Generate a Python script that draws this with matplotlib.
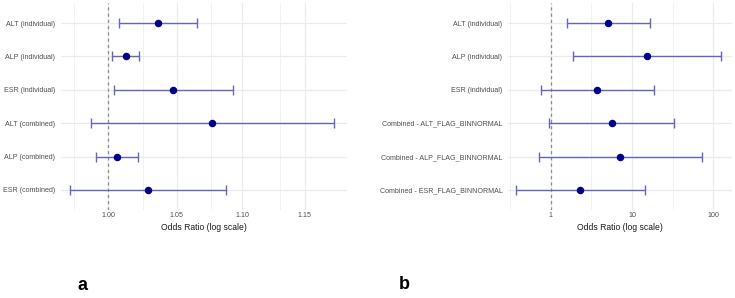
import matplotlib
matplotlib.use("Agg")
import matplotlib.pyplot as plt
import numpy as np

plt.rcParams['font.family'] = ['Liberation Sans', 'DejaVu Sans']

# panel a data
labels_a = ["ALT (individual)", "ALP (individual)", "ESR (individual)",
            "ALT (combined)", "ALP (combined)", "ESR (combined)"]
or_a = [1.0362, 1.0124, 1.0473, 1.0767, 1.0062, 1.0284]
lo_a = [1.0078, 1.0028, 1.0041, 0.9876, 0.9913, 0.9731]
hi_a = [1.0653, 1.0223, 1.0927, 1.1737, 1.0213, 1.0873]

# panel b data
labels_b = ["ALT (individual)", "ALP (individual)", "ESR (individual)",
            "Combined - ALT_FLAG_BINNORMAL", "Combined - ALP_FLAG_BINNORMAL",
            "Combined - ESR_FLAG_BINNORMAL"]
or_b = [5.11, 15.3, 3.74, 5.68, 7.12, 2.29]
lo_b = [1.59, 1.88, 0.76, 0.96, 0.71, 0.374]
hi_b = [16.7, 125.4, 18.5, 33.1, 71.9, 14.3]

ticks_a = [1.00, 1.05, 1.10, 1.15]
ticklabels_a = ["1.00", "1.05", "1.10", "1.15"]
ticks_b = [1, 10, 100]
ticklabels_b = ["1", "10", "100"]

W, H = 735, 298
fig = plt.figure(figsize=(W / 100, H / 100), dpi=100)

grid_col = "#EBEBEB"
bar_col = "#6666B9"
pt_col = "#00008B"


def forest(ax, labels, est, lo, hi, xlim, ticks, ticklabels):
    n = len(labels)
    y = np.arange(n)[::-1]
    ax.set_xscale("log")
    ax.set_xlim(xlim)
    ax.set_ylim(-0.6, n - 0.4)
    # grid: majors, minors halfway in log space
    lt = np.log(ticks)
    step = lt[1] - lt[0]
    minors = np.exp(np.arange(lt[0] - step / 2, np.log(xlim[1]) + 1e-9, step))
    minors = [m for m in minors if xlim[0] <= m <= xlim[1]]
    for m in minors:
        ax.axvline(m, color=grid_col, lw=0.5, zorder=0)
    for t in ticks:
        ax.axvline(t, color=grid_col, lw=0.9, zorder=0)
    for yy in y:
        ax.axhline(yy, color=grid_col, lw=0.9, zorder=0)
    ax.axvline(1, color="#8C8C8C", lw=0.9, ls=(0, (2.5, 2.5)), zorder=1)
    ax.errorbar(est, y, xerr=[np.array(est) - np.array(lo), np.array(hi) - np.array(est)],
                fmt="none", ecolor=bar_col, elinewidth=1.0, capsize=3.3, capthick=1.0, zorder=2)
    ax.plot(est, y, "o", color=pt_col, ms=4.4, zorder=3)
    ax.set_yticks(y)
    ax.set_yticklabels(labels)
    ax.set_xticks(ticks)
    ax.set_xticklabels(ticklabels)
    ax.xaxis.set_minor_locator(matplotlib.ticker.NullLocator())
    ax.tick_params(axis="both", length=0, labelsize=5.1, colors="#4D4D4D")
    ax.tick_params(axis="y", pad=4)
    ax.tick_params(axis="x", pad=1.5)
    for s in ax.spines.values():
        s.set_visible(False)
    ax.set_xlabel("Odds Ratio (log scale)", fontsize=6.2, labelpad=3, color="#1A1A1A")


bottom = 1 - 210 / H
height = 207 / H

ax1 = fig.add_axes([60.5 / W, bottom, (346.7 - 60.5) / W, height])
forest(ax1, labels_a, or_a, lo_a, hi_a, (0.9666, 1.1846), ticks_a, ticklabels_a)

ax2 = fig.add_axes([508 / W, bottom, (731.7 - 508) / W, height])
forest(ax2, labels_b, or_b, lo_b, hi_b, (0.298, 168.4), ticks_b, ticklabels_b)

fig.text(82 / W, 1 - 286 / H, "a", fontsize=13, fontweight="bold", ha="center", va="center")
fig.text(404 / W, 1 - 284.5 / H, "b", fontsize=13, fontweight="bold", ha="center", va="center")

fig.savefig("out.png", dpi=100)
